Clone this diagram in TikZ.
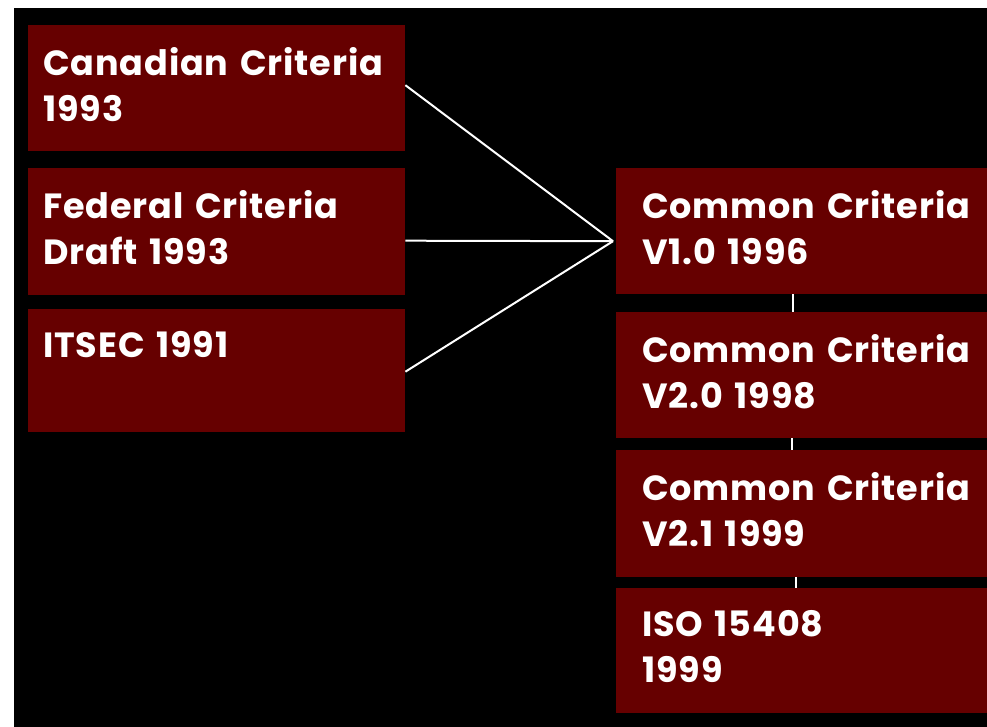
\documentclass[tikz,border=0pt]{standalone}
\usepackage{fontspec}
\setmainfont{Poppins}[LetterSpace=2.5,WordSpace=1.4]
\definecolor{crred}{HTML}{660000}
\tikzset{
  critbox/.style={fill=crred,minimum width=377pt,minimum height=126pt,inner sep=0pt,anchor=north west},
  crittext/.style={text=white,font=\bfseries\fontsize{35}{46}\selectfont,align=left,inner sep=0pt,anchor=north west},
  critline/.style={white,line width=2pt},
  crittick/.style={white,line width=1.4pt}
}
\begin{document}
\begin{tikzpicture}[x=1pt,y=-1pt]
\useasboundingbox (0,0) rectangle (987,727);
\clip (0,0) rectangle (987,727);
\fill[white] (0,0) rectangle (987,727);
\fill[black] (14,8) rectangle (987,727);

\node[critbox] (can) at (28,25) {};
\node[critbox,minimum height=127pt] (fed) at (28,168) {};
\node[critbox,minimum height=123pt] (its) at (28,309) {};
\node[critbox,minimum width=400pt] (cc10) at (616,168) {};
\node[critbox,minimum width=400pt] (cc20) at (616,312) {};
\node[critbox,minimum width=400pt,minimum height=127pt] (cc21) at (616,450) {};
\node[critbox,minimum width=400pt,minimum height=125pt] (iso) at (616,588) {};

\node[crittext] (cantxt) at ([shift={(15pt,-22pt)}]can.north west) {Canadian Criteria\\1993};
\node[crittext] (fedtxt) at ([shift={(15pt,-22pt)}]fed.north west) {Federal Criteria\\Draft 1993};
\node[crittext] (itstxt) at ([shift={(15pt,-22pt)}]its.north west) {ITSEC 1991};
\node[crittext] (cc10txt) at ([shift={(26pt,-22pt)}]cc10.north west) {Common Criteria\\V1.0 1996};
\node[crittext] (cc20txt) at ([shift={(26pt,-22pt)}]cc20.north west) {Common Criteria\\V2.0 1998};
\node[crittext] (cc21txt) at ([shift={(26pt,-22pt)}]cc21.north west) {Common Criteria\\V2.1 1999};
\node[crittext] (isotxt) at ([shift={(26pt,-22pt)}]iso.north west) {ISO 15408\\1999};

\coordinate (apex) at ([shift={(-3pt,-10pt)}]cc10.west);
\draw[critline] ([yshift=3pt]can.east) -- (apex);
\draw[critline] ([yshift=-9pt]fed.east) -- (apex);
\draw[critline] ([yshift=-1pt]its.east) -- (apex);

\draw[crittick] ([xshift=177pt]cc10.south west) -- ([xshift=177pt]cc20.north west);
\draw[crittick] ([xshift=176pt]cc20.south west) -- ([xshift=176pt]cc21.north west);
\draw[crittick] ([xshift=180pt]cc21.south west) -- ([xshift=180pt]iso.north west);
\end{tikzpicture}
\end{document}
